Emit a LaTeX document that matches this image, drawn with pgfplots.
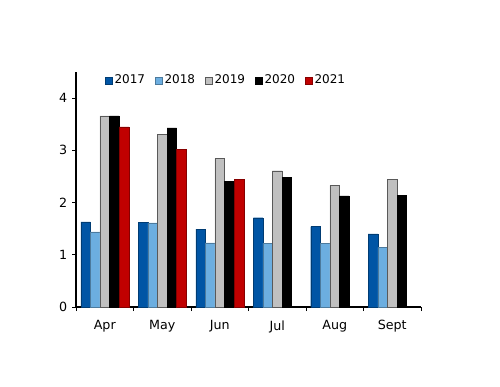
\documentclass[border=0pt]{standalone}
\usepackage{pgfplots}
\pgfplotsset{compat=1.18}
\usepackage{fontspec}
\setmainfont{DejaVu Sans}
\definecolor{c17}{RGB}{0,85,165}
\definecolor{c18}{RGB}{108,174,224}
\definecolor{c19}{RGB}{192,192,192}
\definecolor{c20}{RGB}{0,0,0}
\definecolor{c21}{RGB}{192,0,0}
\begin{document}
\begin{tikzpicture}
\useasboundingbox (0pt,0pt) rectangle (375pt,289.5pt);
\begin{axis}[
  at={(57pt,59.25pt)}, anchor=south west,
  scale only axis,
  width=258.75pt, height=176.25pt,
  xmin=-0.5, xmax=5.5, ymin=0, ymax=4.5,
  axis x line=bottom, axis y line=left,
  axis line style={-, black, line width=0.8pt},
  ytick={0,1,2,3,4},
  xtick={0,1,2,3,4,5},
  xticklabels={Apr,May,Jun,Jul,Aug,Sept},
  major x tick style={draw=none},
  minor xtick={-0.5,0.5,1.5,2.5,3.5,4.5,5.5},
  tick align=outside,
  major tick length=3pt, minor tick length=3pt,
  tick style={black, line width=0.6pt},
  /pgf/number format/assume math mode=true,
  ticklabel style={font=\fontsize{9.5}{11}\selectfont},
  xticklabel style={yshift=-3.5pt},
  ybar, bar width=7.2pt,
  legend columns=5,
  legend style={at={(21.75pt,176.25pt)}, anchor=north west, draw=none, fill=none,
    font=\fontsize{9}{11}\selectfont, column sep=0pt, inner sep=0pt,
    nodes={inner xsep=1.5pt, text width=29pt, align=left}},
  legend image code/.code={\draw[#1] (0pt,-2.6pt) rectangle (5.2pt,2.6pt);},
  clip=false,
]
\addplot[fill=c17, draw=c17!70!black, line width=0.3pt, bar shift=-14.4pt] coordinates {(0,1.63) (1,1.62) (2,1.49) (3,1.71) (4,1.54) (5,1.40)};
\addplot[fill=c18, draw=c18!70!black, line width=0.3pt, bar shift=-7.2pt] coordinates {(0,1.44) (1,1.61) (2,1.23) (3,1.22) (4,1.22) (5,1.14)};
\addplot[fill=c19, draw=gray!70!black, line width=0.3pt, bar shift=0pt] coordinates {(0,3.66) (1,3.30) (2,2.84) (3,2.61) (4,2.33) (5,2.44)};
\addplot[fill=c20, draw=black, line width=0.3pt, bar shift=7.2pt] coordinates {(0,3.66) (1,3.43) (2,2.41) (3,2.48) (4,2.13) (5,2.14)};
\addplot[fill=c21, draw=c21!70!black, line width=0.3pt, bar shift=14.4pt] coordinates {(0,3.45) (1,3.02) (2,2.45)};
\legend{2017,2018,2019,2020,2021}
\end{axis}
\end{tikzpicture}
\end{document}
